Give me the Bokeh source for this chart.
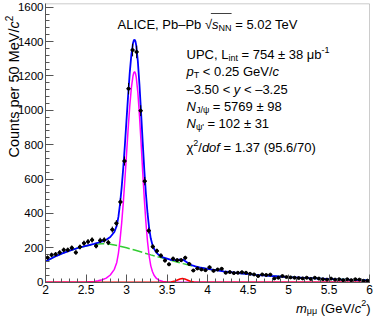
import math
import numpy as np
from bokeh.plotting import figure
from bokeh.models import Range1d, FixedTicker, Label, BoxAnnotation, ColumnDataSource, LinearAxis
from bokeh.embed import file_html
from bokeh.resources import INLINE

# ---------------- data ----------------
bin_centers = [2.025, 2.075, 2.125, 2.175, 2.225, 2.275, 2.325, 2.375, 2.425, 2.475,
               2.525, 2.575, 2.625, 2.675, 2.725, 2.775, 2.825, 2.875, 2.925, 2.975,
               3.025, 3.075, 3.125, 3.175, 3.225, 3.275, 3.325, 3.375, 3.425, 3.475,
               3.525, 3.575, 3.625, 3.675, 3.725, 3.775, 3.825, 3.875, 3.925, 3.975,
               4.025, 4.075, 4.125, 4.175, 4.225, 4.275, 4.325, 4.375, 4.425, 4.475,
               4.525, 4.575, 4.625, 4.675, 4.725, 4.775, 4.825, 4.875, 4.925, 4.975,
               5.025, 5.075, 5.125, 5.175, 5.225, 5.275, 5.325, 5.375, 5.425, 5.475,
               5.525, 5.575, 5.625, 5.675, 5.725, 5.775, 5.825, 5.875, 5.925, 5.975]
counts = [143, 159, 163, 173, 188, 188, 200, 173, 205, 227,
          236, 246, 211, 243, 246, 231, 306, 343, 467, 705,
          1126, 1351, 1340, 998, 588, 300, 207, 182, 155, 126,
          104, 137, 128, 128, 142, 106, 68, 80, 74, 70,
          87, 66, 74, 78, 55, 59, 53, 55, 58, 55,
          49, 45, 36, 45, 42, 44, 22, 26, 36, 30,
          28, 26, 24, 22, 26, 19, 26, 21, 17, 15,
          21, 15, 17, 12, 17, 12, 17, 15, 8, 9]
bin_half_width = 0.025

bkg_mass = [2.0, 2.1, 2.2, 2.3, 2.4, 2.5, 2.6, 2.65, 2.7, 2.75, 2.8, 2.9, 3.0, 3.1, 3.2,
            3.3, 3.4, 3.5, 3.6, 3.7, 3.8, 3.9, 4.0, 4.2, 4.4, 4.6, 4.8, 5.0, 5.2,
            5.4, 5.6, 5.8, 6.0]
bkg_fit = [120, 145, 166, 184, 199, 211, 219, 222, 224, 223, 221, 212, 200, 187, 173,
           159, 146, 134, 121, 108, 96, 86, 77, 63, 52, 43, 36, 30, 25,
           21, 17, 14, 11]

jpsi_mass = [2.0, 2.4, 2.5, 2.6, 2.65, 2.7, 2.75, 2.8, 2.85, 2.88,
             2.9, 2.92, 2.94, 2.96, 2.98, 3.0, 3.02, 3.04, 3.06, 3.08,
             3.09, 3.1, 3.11, 3.12, 3.14, 3.16, 3.18, 3.2, 3.22, 3.24, 3.26, 3.28,
             3.3, 3.32, 3.34, 3.37, 3.4, 3.45, 3.5, 3.6, 6.0]
jpsi_fit = [0, 0, 1, 4, 8, 14, 24, 42, 75, 115,
            168, 245, 342, 460, 596, 743, 889, 1023, 1131, 1200,
            1219, 1225, 1217, 1194, 1105, 971, 811, 642, 483, 346, 235, 151,
            95, 62, 40, 22, 12, 4, 1, 0, 0]

psi2s_mass = [2.0, 3.45, 3.5, 3.55, 3.6, 3.63, 3.66, 3.69, 3.72, 3.75, 3.78, 3.83, 3.88, 3.95, 6.0]
psi2s_fit = [0, 0, 0.2, 1.5, 7, 13, 19, 22, 19, 13, 7, 1.5, 0.2, 0, 0]

total_mass = [2.0, 2.1, 2.2, 2.3, 2.4, 2.5, 2.6, 2.65, 2.7, 2.75, 2.8, 2.85, 2.88,
              2.9, 2.92, 2.94, 2.96, 2.98, 3.0, 3.02, 3.04, 3.06, 3.08, 3.09,
              3.1, 3.11, 3.12, 3.14, 3.16, 3.18, 3.2, 3.22, 3.24, 3.26, 3.28,
              3.3, 3.32, 3.34, 3.37, 3.4, 3.45, 3.5, 3.55, 3.6, 3.65, 3.7, 3.75,
              3.8, 3.85, 3.9, 4.0, 4.2, 4.4, 4.6, 4.8, 5.0, 5.2, 5.4, 5.6, 5.8, 6.0]
total_fit = [120, 145, 166, 184, 199, 212, 223, 230, 238, 247, 263, 292, 329,
             380, 455, 550, 665, 798, 943, 1086, 1218, 1323, 1390, 1407,
             1412, 1403, 1378, 1286, 1150, 987, 815, 653, 513, 400, 313,
             254, 218, 194, 172, 158, 144, 137, 130, 128, 132, 130, 115,
             100, 92, 86, 77, 63, 52, 43, 36, 30, 25, 21, 17, 14, 11]

x_ticks = [2.0, 2.5, 3.0, 3.5, 4.0, 4.5, 5.0, 5.5, 6.0]
x_tick_labels = ["2", "2.5", "3", "3.5", "4", "4.5", "5", "5.5", "6"]
y_ticks = [0, 200, 400, 600, 800, 1000, 1200, 1400, 1600]
y_tick_labels = ["0", "200", "400", "600", "800", "1000", "1200", "1400", "1600"]
X_MIN, X_MAX = 2.0, 6.0
Y_MIN, Y_MAX = 0.0, 1620.0

# ---------------- layout (page pixels) ----------------
PAGE = 0
FIG_W, FIG_H = 374, 317
CAN_L, CAN_T = PAGE, PAGE
CAN_R, CAN_B = PAGE + FIG_W, PAGE + FIG_H
BOX_L, BOX_R, BOX_T, BOX_B = 45, 369, 3.3, 281.7      # plot box on the page
FONT = "Liberation Sans"

sx = (BOX_R - BOX_L) / (X_MAX - X_MIN)
sy = (BOX_B - BOX_T) / (Y_MAX - Y_MIN)
x_range = Range1d(X_MIN - (BOX_L - CAN_L) / sx, X_MAX + (CAN_R - BOX_R) / sx)
y_range = Range1d(Y_MIN - (CAN_B - BOX_B) / sy, Y_MAX + (BOX_T - CAN_T) / sy)

p = figure(width=FIG_W, height=FIG_H, x_range=x_range, y_range=y_range,
           output_backend="svg", toolbar_location=None,
           x_axis_location=None, y_axis_location=None,
           min_border_left=0, min_border_right=0, min_border_top=0, min_border_bottom=0)
p.grid.visible = False
p.outline_line_color = None
p.background_fill_color = "white"
p.border_fill_color = "white"

AXC = "#555555"
xa = LinearAxis(fixed_location=Y_MIN, bounds=(X_MIN, X_MAX))
ya = LinearAxis(fixed_location=X_MIN, bounds=(Y_MIN, Y_MAX))
xa.ticker = FixedTicker(ticks=x_ticks, minor_ticks=[2 + 0.1 * k for k in range(41)])
ya.ticker = FixedTicker(ticks=y_ticks, minor_ticks=[40 * k for k in range(41)])
xa.major_label_overrides = {t: l for t, l in zip(x_ticks, x_tick_labels)}
ya.major_label_overrides = {t: l for t, l in zip(y_ticks, y_tick_labels)}
for ax in (xa, ya):
    ax.major_tick_in = 8
    ax.major_tick_out = 0
    ax.minor_tick_in = 4
    ax.minor_tick_out = 0
    ax.axis_line_color = AXC
    ax.major_tick_line_color = AXC
    ax.minor_tick_line_color = AXC
    ax.major_label_text_font = FONT
    ax.major_label_text_color = "black"
xa.major_label_text_font_size = "12px"
ya.major_label_text_font_size = "11.5px"
xa.major_label_standoff = 3
ya.major_label_standoff = 2
p.add_layout(xa, "below")
p.add_layout(ya, "left")

# plot box
p.add_layout(BoxAnnotation(left=X_MIN, right=X_MAX, bottom=Y_MIN, top=Y_MAX,
                           fill_alpha=0, line_color=AXC, line_width=1, level="underlay"))

# ---------------- curves ----------------
p.line(bkg_mass, bkg_fit, line_color="#33cc33", line_width=1.5, line_dash="10 3")
p.line(jpsi_mass, jpsi_fit, line_color="#ff00ff", line_width=1.5)
p.line(psi2s_mass, psi2s_fit, line_color="#ff0000", line_width=1.5)
p.line(total_mass, total_fit, line_color="#0000ff", line_width=1.8)

# ---------------- data points ----------------
cnt = np.array(counts, dtype=float)
xc = np.array(bin_centers)
err = np.sqrt(cnt)
src = ColumnDataSource(dict(x=xc, y=cnt, lo=cnt - err, hi=cnt + err,
                            xl=xc - bin_half_width, xr=xc + bin_half_width))
p.segment(x0="x", y0="lo", x1="x", y1="hi", source=src, line_color="black", line_width=1)
p.segment(x0="xl", y0="y", x1="xr", y1="y", source=src, line_color="black", line_width=1)
p.scatter(x="x", y="y", source=src, marker="circle", size=3, color="black")

# ---------------- text ----------------
W = {' ': 278, ',': 278, '.': 278, '/': 278, '(': 333, ')': 333, '-': 333, "'": 191,
     '<': 584, '=': 584, '±': 549, '–': 556, '−': 584, '√': 549, 'μ': 576, 'ψ': 686,
     'χ': 520, 'A': 667, 'C': 722, 'E': 667, 'G': 778, 'I': 278, 'J': 500, 'L': 556,
     'M': 833, 'N': 722, 'P': 667, 'T': 611, 'U': 722, 'V': 667, 'b': 556, 'c': 500,
     'd': 556, 'e': 556, 'f': 278, 'i': 222, 'm': 833, 'n': 556, 'o': 556, 'p': 556,
     'r': 333, 's': 500, 't': 278, 'u': 556, 'y': 500}


def tw(s, size):
    return sum(W.get(ch, 556) for ch in s) * size / 1000.0


def add_text(xp, yp, text, size, italic=False, angle=0.0):
    p.add_layout(Label(x=xp - CAN_L, y=CAN_B - yp, x_units="screen", y_units="screen",
                       text=text, text_font=FONT, text_font_size=f"{size}px",
                       text_font_style="italic" if italic else "normal",
                       text_color="black", text_align="left", text_baseline="alphabetic",
                       angle=angle))


def add_runs(start, base, parts, main=13, sub=9, vertical=False):
    pos = start
    spans = []
    for text, kind in parts:
        size = sub if kind in ("sub", "sup") else main
        off = 3 if kind == "sub" else (-5 if kind == "sup" else 0)
        italic = kind == "i"
        core = text.strip(" ")
        lead = tw(text[:len(text) - len(text.lstrip(" "))], size)
        trail = tw(text[len(text.rstrip(" ")):], size)
        w = tw(core, size)
        step = -1 if vertical else 1
        pos += step * lead
        if vertical:
            add_text(base + off, pos, core, size, italic, angle=math.pi / 2)
        else:
            add_text(pos, base + off, core, size, italic)
        spans.append((pos, pos + step * w))
        pos += step * (w + trail)
    return spans


# header
sp = add_runs(117, 24, [("ALICE, Pb–Pb ", "n"), ("√", "n"), ("s", "i"), ("NN", "sub"),
                        (" = 5.02 TeV", "n")])
p.add_layout(BoxAnnotation(left=sp[1][1] - 1.2 - CAN_L, right=sp[3][1] - CAN_L,
                           top=CAN_B - 12.4, bottom=CAN_B - 13.3,
                           left_units="screen", right_units="screen",
                           top_units="screen", bottom_units="screen",
                           fill_color="black", fill_alpha=1, line_alpha=0))

X0 = 186
add_runs(X0, 54, [("UPC, L", "n"), ("int", "sub"), (" = 754 ± 38 μb", "n"), ("-1", "sup")])
add_runs(X0, 71.3, [("p", "i"), ("T", "sub"), (" < 0.25 GeV/", "n"), ("c", "i")])
add_runs(X0, 88.7, [("–3.50 < ", "n"), ("y", "i"), (" < –3.25", "n")])
add_runs(X0, 106, [("N", "i"), ("J/ψ", "sub"), (" = 5769 ± 98", "n")])
add_runs(X0, 123, [("N", "i"), ("ψ'", "sub"), (" = 102 ± 31", "n")])
add_runs(X0, 147, [("χ", "n"), ("2", "sup"), ("/", "n"), ("dof", "i"),
                   (" = 1.37 (95.6/70)", "n")])

# x title (right aligned at the end of the axis)
xt_parts = [("m", "i"), ("μμ", "sub"), (" (GeV/", "n"), ("c", "i"), ("2", "sup"), (")", "n")]
xt_w = sum(tw(t, 9 if k in ("sub", "sup") else 13) for t, k in xt_parts)
add_runs(BOX_R + 1 - xt_w, 307.5, xt_parts)

# y title (rotated, aligned to the top of the axis)
add_runs(157, 13.3, [("Counts per 50 MeV/", "n"), ("c", "i"), ("2", "sup")],
         main=14.5, sub=10, vertical=True)

open("out.html", "w").write(file_html(p, INLINE))
